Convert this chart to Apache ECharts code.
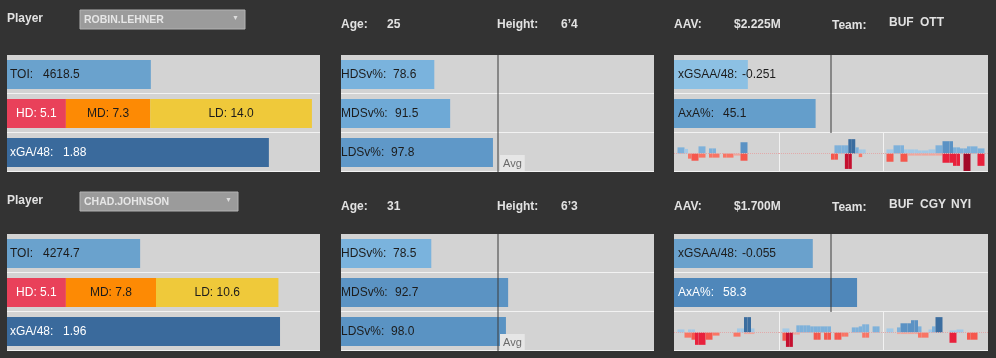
<!DOCTYPE html>
<html><head><meta charset="utf-8">
<script src="https://cdn.jsdelivr.net/npm/echarts@6/dist/echarts.min.js"></script>
<style>html,body{margin:0;padding:0;background:#333333;}#c{width:996px;height:358px;}</style>
</head><body><div id="c"></div>
<script>
// ---------- data ----------
const playerNames = ['ROBIN.LEHNER', 'CHAD.JOHNSON'];
const ages = ['25', '31'];
const heights = ['6\u20194', '6\u20193'];
const aavs = ['$2.225M', '$1.700M'];
const teams = [['BUF', 'OTT'], ['BUF', 'CGY', 'NYI']];
const toi = [4618.5, 4274.7];
const hdVals = [5.1, 5.1];
const mdVals = [7.3, 7.8];
const ldVals = [14.0, 10.6];
const xga48 = [1.88, 1.96];
const hdsv = [78.6, 78.5];
const mdsv = [91.5, 92.7];
const ldsv = [97.8, 98.0];
const xgsaa48 = [-0.251, -0.055];
const axaPct = [45.1, 58.3];
const avgHdsv = 80.7, avgMdsv = 92.48, avgLdsv = 97.87, avgXgsaa = 0, avgAxa = 50;
const sparkSlots = Array.from({length: 30}, (_, i) => String(i + 1));
// sparkline values per season panel: [player][season]
const sparkPos = [
  [
    [0,6,6,4.5,0,0,0,7,7,0,5,5,0,0,0,0,0,0,0,11,11,0,0,0,0,0,0,0,0,0],
    [0,0,0,0,0,0,0,0,0,0,0,0,0,0,0,0,8,8,8,8,14,14,6,4,4,0,0,0,0,0],
    [0,4,4,8,8,8,4,4,4,4,3,3,3,4,4,8,8,12,12,12,6,6,5,5,7,7,7,5,5,0]
  ],
  [
    [0,3,3,0,3,3,0,0,0,0,0,0,0,0,0,0,0,0,4,4,15,15,4,0,0,0,0,0,0,0],
    [0,4,4,0,0,7,7,7,7,6,6,6,6,6,6,0,0,0,0,0,0,5,5,6,8,8,0,6,6,0],
    [0,4,4,0,5,9,9,9,12,12,6,0,0,3,6,15,15,0,0,2,2,3,3,0,0,0,0,0,0,0]
  ]
];
const sparkNeg = [
  [
    [0,0,0,0,-5,-7,-7,-4,-4,0,-4,-4,-4,0,-4,-4,-4,-2,-2,-7,-7,0,0,0,0,0,0,0,0,0],
    [0,0,0,0,0,0,0,0,0,0,0,0,0,0,0,-6,-6,0,0,-15,-15,0,0,-3.5,0,0,0,0,0,0],
    [0,-8,-8,0,0,-8,-8,-2,-2,-2,-2,-2,-2,-2,-2,-2,-2,-9,-9,-9,-12,-12,0,-17,-17,0,0,-12,-12,0]
  ],
  [
    [0,0,0,-5,-5,-7,-12,-12,-12,-7,-7,-3,-3,0,0,0,0,-4,-4,0,-1.5,-1.5,-1.5,0,0,0,0,0,0,0],
    [0,-8,-14,-14,-2,-2,0,0,0,0,-7,-7,0,-7,-7,0,-7,-7,-4,-4,0,0,0,0,-5,-5,0,0,0,0],
    [0,0,0,0,-1.5,-1.5,-1.5,-1.5,-1.5,-1.5,-5,-5,-5,0,0,0,0,0,0,-10,-10,0,0,0,-7,-7,-7,0,0,0]
  ]
];

// ---------- styling / layout ----------
const FONT = '"Liberation Sans", Arial, sans-serif';
const PANEL_BG = '#d3d3d3';
const DARK = '#1c1c1c';
const grids = [], xAxes = [], yAxes = [], series = [], graphics = [];

function addRowGrid(left, width, top, height, min, max) {
  const i = grids.length;
  grids.push({left, top, width, height, show: true, backgroundColor: PANEL_BG, borderWidth: 0, containLabel: false});
  xAxes.push({type: 'value', gridIndex: i, min, max, startValue: min, show: false});
  yAxes.push({type: 'category', gridIndex: i, data: ['v'], show: false});
  return i;
}
function kvLabel(key, val, keyW, color, dist) {
  return {
    show: true, position: 'insideLeft', distance: dist,
    formatter: '{k|' + key + '}{v|' + val + '}',
    rich: {
      k: {width: keyW, color, fontFamily: FONT, fontSize: 12},
      v: {color, fontFamily: FONT, fontSize: 12}
    }
  };
}
function avgLine(v) {
  return {silent: true, symbol: 'none', label: {show: false},
    lineStyle: {color: 'rgba(60,60,60,0.5)', width: 2, type: 'solid'},
    data: [{xAxis: v}]};
}
function bar(gi, value, color, label, mark) {
  const s = {type: 'bar', xAxisIndex: gi, yAxisIndex: gi, data: [value], barWidth: 29,
    itemStyle: {color}, label, silent: true, animation: false};
  if (mark !== undefined) s.markLine = mark;
  series.push(s);
}
function posColor(v) {
  if (v <= 4.5) return '#a3c9e6';
  if (v <= 8) return '#7eb1da';
  if (v <= 12) return '#5b92c4';
  return '#3b6d9f';
}
function negColor(v) {
  const a = Math.abs(v);
  if (a <= 2) return '#f0a69c';
  if (a <= 5) return '#f97565';
  if (a <= 8) return '#f5574d';
  if (a <= 12) return '#e8213c';
  if (a <= 15) return '#c5102f';
  return '#a20a28';
}
function txt(text, x, y, opts) {
  graphics.push({type: 'text', z: 5, style: Object.assign({
    text, x, y, fill: '#e2e2e2', font: 'bold 12px ' + FONT, verticalAlign: 'middle', textVerticalAlign: 'middle'
  }, opts || {})});
}
function hline(x1, x2, y) {
  graphics.push({type: 'line', z: 1, shape: {x1, y1: y, x2, y2: y}, style: {stroke: '#f2f2f2', lineWidth: 1}});
}
function vline(x, y1, y2) {
  graphics.push({type: 'line', z: 1, shape: {x1: x, y1, x2: x, y2}, style: {stroke: '#f2f2f2', lineWidth: 1}});
}

const rowTopsBase = [55, 94, 133];
const ddWidth = [165, 158];
for (let p = 0; p < 2; p++) {
  const off = p === 0 ? 0 : 179;
  const hoff = p === 0 ? 0 : 182;
  const rt = rowTopsBase.map(t => t + off);
  // header
  txt('Player', 7, 19 + hoff);
  graphics.push({type: 'rect', z: 4, shape: {x: 80, y: 10 + hoff, width: ddWidth[p], height: 19},
    style: {fill: '#9b9b9b', stroke: '#b3b3b3', lineWidth: 1}});
  txt(playerNames[p], 84, 20 + hoff, {font: 'bold 10.5px ' + FONT, fill: '#e6e6e6'});
  txt('\u25BC', 80 + ddWidth[p] - 13, 18.5 + hoff, {font: '7px ' + FONT, fill: '#dddddd'});
  txt('Age:', 341, 25 + hoff);
  txt(ages[p], 387, 25 + hoff);
  txt('Height:', 497, 25 + hoff);
  txt(heights[p], 561, 25 + hoff);
  txt('AAV:', 674, 25 + hoff);
  txt(aavs[p], 734, 25 + hoff);
  txt('Team:', 832, 26 + hoff);
  const teamX = [889, 920, 951];
  teams[p].forEach((t, k) => txt(t, teamX[k], 23 + hoff));

  // panel 1
  let g = addRowGrid(7, 313, rt[0], 39, 0, 10050);
  bar(g, toi[p], '#6aa2cd', kvLabel('TOI:', toi[p].toFixed(1), 33, DARK, 3));
  g = addRowGrid(7, 313, rt[1], 39, 0, 27.1);
  const stackLbl = (name, v, color) => ({show: true, position: 'inside', formatter: name + ': ' + v.toFixed(1),
    color, fontFamily: FONT, fontSize: 12});
  series.push({type: 'bar', stack: 'd' + p, xAxisIndex: g, yAxisIndex: g, data: [hdVals[p]], barWidth: 29,
    itemStyle: {color: '#e9415a'}, label: stackLbl('HD', hdVals[p], '#ffffff'), silent: true, animation: false});
  series.push({type: 'bar', stack: 'd' + p, xAxisIndex: g, yAxisIndex: g, data: [mdVals[p]], barWidth: 29,
    itemStyle: {color: '#fd8a04'}, label: stackLbl('MD', mdVals[p], DARK), silent: true, animation: false});
  series.push({type: 'bar', stack: 'd' + p, xAxisIndex: g, yAxisIndex: g, data: [ldVals[p]], barWidth: 29,
    itemStyle: {color: '#efc93a'}, label: stackLbl('LD', ldVals[p], DARK), silent: true, animation: false});
  g = addRowGrid(7, 313, rt[2], 39, 0, 2.247);
  bar(g, xga48[p], '#3a6a9c', kvLabel('xGA/48:', xga48[p].toFixed(2), 53, '#ffffff', 3));
  hline(7, 320, rt[1] - 0.5); hline(7, 320, rt[2] - 0.5); hline(7, 320, rt[2] + 38.5);

  // panel 2
  const svColors = p === 0 ? ['#7ab3dd', '#6ea9d6', '#5f98c8'] : ['#7ab3dd', '#5b93c3', '#5a93c3'];
  g = addRowGrid(341, 313, rt[0], 39, 75.5, 85.9);
  bar(g, hdsv[p], svColors[0], kvLabel('HDSv%:', hdsv[p].toFixed(1), 52, DARK, 0), avgLine(avgHdsv));
  g = addRowGrid(341, 313, rt[1], 39, 89.24, 95.72);
  bar(g, mdsv[p], svColors[1], kvLabel('MDSv%:', mdsv[p].toFixed(1), 54, DARK, 0), avgLine(avgMdsv));
  g = addRowGrid(341, 313, rt[2], 39, 95.46, 100.28);
  bar(g, ldsv[p], svColors[2], kvLabel('LDSv%:', ldsv[p].toFixed(1), 50, DARK, 0), avgLine(avgLdsv));
  hline(341, 654, rt[1] - 0.5); hline(341, 654, rt[2] - 0.5); hline(341, 654, rt[2] + 38.5);
  graphics.push({type: 'text', z: 10, style: {text: 'Avg', x: 500, y: rt[2] + 22, fill: '#6a6a6a',
    font: '11px ' + FONT, backgroundColor: '#e6e6e6', padding: [3, 3, 2, 3]}});

  // panel 3
  const p3Colors = p === 0 ? ['#8cc0e3', '#649ecb'] : ['#6aa1cc', '#4f87ba'];
  const axaTxt = p === 0 ? DARK : '#ffffff';
  g = addRowGrid(674, 314, rt[0], 39, -0.474, 0.474);
  bar(g, xgsaa48[p], p3Colors[0], kvLabel('xGSAA/48:', xgsaa48[p].toFixed(3), 64, DARK, 4), avgLine(avgXgsaa));
  g = addRowGrid(674, 314, rt[1], 39, 0, 100);
  bar(g, axaPct[p], p3Colors[1], kvLabel('AxA%:', axaPct[p].toFixed(1), 45, axaTxt, 4), avgLine(avgAxa));
  // sparklines
  const sLefts = [674, 779, 883], sWidths = [105, 104, 105];
  for (let s = 0; s < 3; s++) {
    const i = grids.length;
    grids.push({left: sLefts[s], top: rt[2], width: sWidths[s], height: 39, show: true,
      backgroundColor: PANEL_BG, borderWidth: 0});
    xAxes.push({type: 'category', gridIndex: i, data: sparkSlots, show: false, boundaryGap: true});
    yAxes.push({type: 'value', gridIndex: i, min: -18, max: 20, show: false});
    series.push({type: 'bar', xAxisIndex: i, yAxisIndex: i, data: sparkPos[p][s], barWidth: '100%', barGap: '-100%',
      itemStyle: {color: (d) => posColor(d.value)}, silent: true, animation: false,
      markLine: {silent: true, symbol: 'none', label: {show: false},
        lineStyle: {color: '#e2aaaa', width: 1, type: 'dotted'}, data: [{yAxis: 0}]}});
    series.push({type: 'bar', xAxisIndex: i, yAxisIndex: i, data: sparkNeg[p][s], barWidth: '100%', barGap: '-100%',
      itemStyle: {color: (d) => negColor(d.value)}, silent: true, animation: false});
  }
  hline(674, 988, rt[1] - 0.5); hline(674, 988, rt[2] - 0.5); hline(674, 988, rt[2] + 38.5);
  vline(779.5, rt[2], rt[2] + 39); vline(883.5, rt[2], rt[2] + 39);
}

const chart = echarts.init(document.getElementById('c'), null, {renderer: 'canvas'});
chart.setOption({
  backgroundColor: '#333333',
  animation: false,
  grid: grids, xAxis: xAxes, yAxis: yAxes, series,
  graphic: {elements: graphics}
});
</script></body></html>
